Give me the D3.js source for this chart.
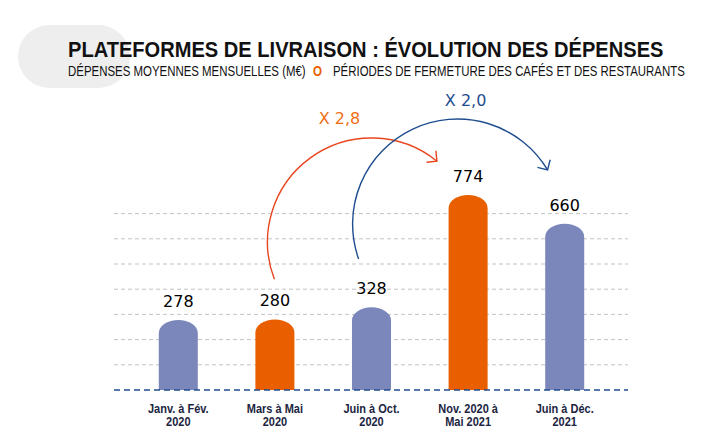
<!DOCTYPE html>
<html>
<head>
<meta charset="utf-8">
<script src="https://cdn.jsdelivr.net/npm/d3@7"></script>
<style>
  body { margin: 0; background: #fff; }
  svg { display: block; }
</style>
</head>
<body>
<div id="chart"></div>
<script>
// data
const periods = ["Janv. à Fév. 2020", "Mars à Mai 2020", "Juin à Oct. 2020", "Nov. 2020 à Mai 2021", "Juin à Déc. 2021"];
const labelLines = [["Janv. à Fév.", "2020"], ["Mars à Mai", "2020"], ["Juin à Oct.", "2020"], ["Nov. 2020 à", "Mai 2021"], ["Juin à Déc.", "2021"]];
const spending = [278, 280, 328, 774, 660];
const closed = [false, true, false, true, false];   // fermeture cafés/restaurants
const gridValues = [100, 200, 300, 400, 500, 600, 700];
const multipliers = [
    { from: 1, to: 3, text: "X 2,8" },
    { from: 2, to: 4, text: "X 2,0" }
];

const W = 703, H = 442;
const blue = "#7b87bb", orange = "#e95f00", navy = "#1f4e8f";
const sans = "'Liberation Sans', Arial, sans-serif";

const svg = d3.select("#chart").append("svg")
    .attr("width", W)
    .attr("height", H);

// grey pill behind the title
svg.append("rect")
    .attr("x", 18).attr("y", 25)
    .attr("width", 112).attr("height", 63)
    .attr("rx", 31.5)
    .attr("fill", "#eeeeee");

// the original uses a condensed face: squeeze the text horizontally
function squeeze(x0, y0, width, size, bold, color, str) {
    const g = svg.append("g");
    const t = g.append("text")
        .style("font-family", sans)
        .style("font-size", size + "px")
        .style("font-weight", bold ? "bold" : "normal")
        .attr("fill", color)
        .text(str);
    const sx = width / t.node().getComputedTextLength();
    g.attr("transform", `translate(${x0},${y0}) scale(${sx.toFixed(4)},1)`);
    return g;
}

squeeze(68, 57, 596, 23, true, "#111", "PLATEFORMES DE LIVRAISON : ÉVOLUTION DES DÉPENSES");
squeeze(68, 76, 238, 14.5, false, "#111", "DÉPENSES MOYENNES MENSUELLES (M€)");
squeeze(313, 76, 9, 14.5, true, orange, "O");
squeeze(333, 76, 352, 14.5, false, "#111", "PÉRIODES DE FERMETURE DES CAFÉS ET DES RESTAURANTS");

// scales
const x = d3.scaleBand()
    .domain(periods)
    .range([130, 613])
    .paddingInner(0.596)
    .paddingOuter(0.298);

const y = d3.scaleLinear()
    .domain([0, 800])
    .range([390, 188.4]);

const left = 114, right = 628;

// gridlines
svg.append("g")
    .selectAll("line")
    .data(gridValues)
    .join("line")
    .attr("x1", left).attr("x2", right)
    .attr("y1", d => y(d)).attr("y2", d => y(d))
    .attr("stroke", "#c3c3c3")
    .attr("stroke-width", 1)
    .attr("stroke-dasharray", "4,3");

// bars with rounded tops
const cap = 13;
function barPath(i) {
    const x0 = x(periods[i]), w = x.bandwidth();
    const top = y(spending[i]), base = y(0);
    return `M${x0},${base}V${top + cap}A${w / 2},${cap} 0 0 1 ${x0 + w},${top + cap}V${base}Z`;
}

svg.append("g")
    .selectAll("path")
    .data(spending)
    .join("path")
    .attr("d", (d, i) => barPath(i))
    .attr("fill", (d, i) => closed[i] ? orange : blue);

// baseline
svg.append("line")
    .attr("x1", left).attr("x2", right)
    .attr("y1", y(0)).attr("y2", y(0))
    .attr("stroke", navy)
    .attr("stroke-width", 1.5)
    .attr("stroke-dasharray", "6,4");

// value labels
svg.append("g")
    .selectAll("text")
    .data(spending)
    .join("text")
    .attr("x", (d, i) => x(periods[i]) + x.bandwidth() / 2)
    .attr("y", d => y(d) - 13)
    .attr("text-anchor", "middle")
    .style("font-family", "'DejaVu Sans', Verdana, sans-serif")
    .style("font-size", "16px")
    .attr("fill", "#000")
    .text(d => d);

// category labels, two lines each, slightly condensed
const xl = svg.append("g")
    .selectAll("g")
    .data(labelLines.flatMap((lines, i) => lines.map((t, j) => ({ t, i, j }))))
    .join("g")
    .attr("transform", d => `translate(${x(periods[d.i]) + x.bandwidth() / 2},${412.5 + d.j * 13.4}) scale(0.88,1)`);

xl.append("text")
    .attr("text-anchor", "middle")
    .style("font-family", sans)
    .style("font-weight", "bold")
    .style("font-size", "12.5px")
    .attr("fill", "#1c2541")
    .text(d => d.t);

// multiplier arcs (annotation geometry)
const arcStyle = [
    { color: "#e8471e", text: "#ee7014", dx: 0, cy: 242, r: 104, a0: -111, a1: 39, lx: -32, ly: -14 },
    { color: navy, text: navy, dx: -10.5, cy: 224, r: 105, a0: -109.5, a1: 59, lx: 8, ly: -13 }
];

multipliers.forEach((m, k) => {
    const s = arcStyle[k];
    const cx = (x(periods[m.from]) + x(periods[m.to]) + x.bandwidth()) / 2 + s.dx;
    const rad = a => a * Math.PI / 180;
    const pt = a => [cx + s.r * Math.sin(rad(a)), s.cy - s.r * Math.cos(rad(a))];
    const p0 = pt(s.a0), p1 = pt(s.a1);
    const large = (s.a1 - s.a0) > 180 ? 1 : 0;

    svg.append("path")
        .attr("d", `M${p0[0]},${p0[1]}A${s.r},${s.r} 0 ${large} 1 ${p1[0]},${p1[1]}`)
        .attr("fill", "none")
        .attr("stroke", s.color)
        .attr("stroke-width", 1.4);

    // open arrow head
    const dir = [Math.cos(rad(s.a1)), Math.sin(rad(s.a1))];
    const back = [-dir[0], -dir[1]];
    const rot = (v, a) => [v[0] * Math.cos(a) - v[1] * Math.sin(a), v[0] * Math.sin(a) + v[1] * Math.cos(a)];
    const L = 10.5;
    const ea = rot(back, rad(45)), eb = rot(back, rad(-45));
    svg.append("path")
        .attr("d", `M${p1[0] + ea[0] * L},${p1[1] + ea[1] * L}L${p1[0]},${p1[1]}L${p1[0] + eb[0] * L},${p1[1] + eb[1] * L}`)
        .attr("fill", "none")
        .attr("stroke", s.color)
        .attr("stroke-width", 1.4);

    svg.append("text")
        .attr("x", cx + s.lx)
        .attr("y", s.cy - s.r + s.ly)
        .attr("text-anchor", "middle")
        .style("font-family", "'DejaVu Sans', Verdana, sans-serif")
        .style("font-size", "16px")
        .attr("fill", s.text)
        .text(m.text);
});
</script>
</body>
</html>
